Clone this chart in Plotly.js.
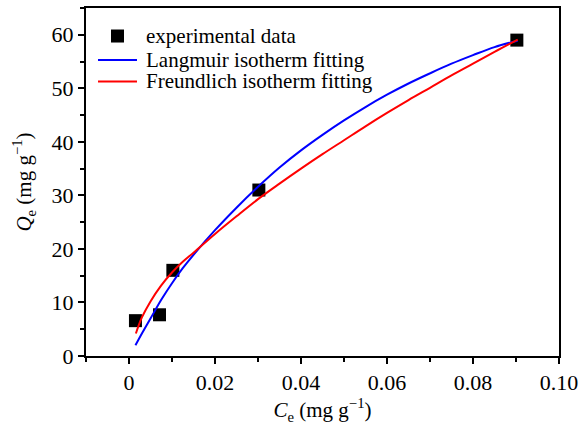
<!DOCTYPE html>
<html>
<head>
<meta charset="utf-8">
<script src="https://cdn.plot.ly/plotly-3.0.1.min.js"></script>
<style>html,body{margin:0;padding:0;background:#fff;}#chart{width:579px;height:428px;}</style>
</head>
<body>
<div id="chart"></div>
<script>
// experimental data
var expC = [0.0015, 0.0071, 0.0102, 0.0302, 0.0902];
var expQ = [6.6, 7.7, 16.0, 31.0, 59.0];
// Langmuir isotherm fitting
var langC = [0.0015, 0.003, 0.005, 0.0075, 0.01, 0.0125, 0.015, 0.02, 0.025, 0.03, 0.035, 0.04, 0.045, 0.05, 0.055, 0.06, 0.065, 0.07, 0.075, 0.08, 0.085, 0.0904];
var langQ = [2.0, 4.2, 7.0, 10.5, 13.6, 16.4, 18.9, 23.5, 27.7, 31.6, 35.2, 38.4, 41.3, 44.0, 46.5, 48.8, 50.9, 52.8, 54.6, 56.2, 57.7, 58.9];
// Freundlich isotherm fitting
var freuC = [0.0016, 0.003, 0.005, 0.0075, 0.01, 0.0125, 0.015, 0.02, 0.025, 0.03, 0.035, 0.04, 0.045, 0.05, 0.055, 0.06, 0.065, 0.07, 0.075, 0.08, 0.085, 0.0904];
var freuQ = [4.2, 7.2, 10.2, 13.2, 15.6, 17.6, 19.3, 22.8, 26.1, 29.3, 32.2, 35.0, 37.7, 40.3, 42.9, 45.4, 47.8, 50.1, 52.4, 54.6, 56.8, 59.1];
// series names and tick labels
var seriesNames = ['experimental data', 'Langmuir isotherm fitting', 'Freundlich isotherm fitting'];
var xTickVals = [0, 0.02, 0.04, 0.06, 0.08, 0.10];
var xTickText = ['0', '0.02', '0.04', '0.06', '0.08', '0.10'];
var yTickVals = [0, 10, 20, 30, 40, 50, 60];

var font = 'Liberation Serif, Times New Roman, serif';
var colors = ['#000000', '#0000ff', '#ff0000'];
var traces = [
  {x: expC, y: expQ, mode: 'markers', type: 'scatter', name: seriesNames[0],
   marker: {symbol: 'square', size: 13, color: colors[0]}},
  {x: langC, y: langQ, mode: 'lines', type: 'scatter', name: seriesNames[1],
   line: {color: colors[1], width: 2, shape: 'spline', smoothing: 1}},
  {x: freuC, y: freuQ, mode: 'lines', type: 'scatter', name: seriesNames[2],
   line: {color: colors[2], width: 2, shape: 'spline', smoothing: 1}}
];

// manual legend (paper coordinates)
var rowsY = [0.9195, 0.8506, 0.7888];
var shapes = [
  {type: 'rect', xref: 'paper', yref: 'paper', x0: 0.0529, x1: 0.0803, y0: rowsY[0] - 0.0187, y1: rowsY[0] + 0.0187,
   fillcolor: colors[0], line: {width: 0}},
  {type: 'line', xref: 'paper', yref: 'paper', x0: 0.0254, x1: 0.1078, y0: rowsY[1], y1: rowsY[1],
   line: {color: colors[1], width: 2}},
  {type: 'line', xref: 'paper', yref: 'paper', x0: 0.0254, x1: 0.1078, y0: rowsY[2], y1: rowsY[2],
   line: {color: colors[2], width: 2}}
];
var annotations = seriesNames.map(function (n, i) {
  return {text: n, xref: 'paper', yref: 'paper', x: 0.125, y: rowsY[i], xanchor: 'left', yanchor: 'middle',
          borderpad: 0, showarrow: false, font: {family: font, size: 21, color: '#000'}};
});

var layout = {
  width: 579, height: 428,
  margin: {l: 86, r: 20, t: 8, b: 72, pad: 0},
  paper_bgcolor: '#ffffff', plot_bgcolor: '#ffffff',
  font: {family: font, size: 21, color: '#000000'},
  showlegend: false,
  shapes: shapes,
  annotations: annotations,
  xaxis: {
    range: [-0.01, 0.10], showgrid: false, zeroline: false,
    showline: true, linecolor: '#000', linewidth: 2, mirror: true,
    ticks: 'outside', ticklen: 6, tickwidth: 2, tickcolor: '#000',
    tickmode: 'array', tickvals: xTickVals, ticktext: xTickText,
    tickfont: {family: font, size: 22},
    minor: {dtick: 0.01, tick0: 0, ticks: 'outside', ticklen: 4, tickwidth: 2, tickcolor: '#000'},
    title: {text: '<i>C</i><sub>e</sub> (mg g<sup>−1</sup>)', font: {family: font, size: 21}, standoff: 4}
  },
  yaxis: {
    range: [0, 65], showgrid: false, zeroline: false,
    showline: true, linecolor: '#000', linewidth: 2, mirror: true,
    ticks: 'outside', ticklen: 6, tickwidth: 2, tickcolor: '#000',
    tickmode: 'array', tickvals: yTickVals,
    tickfont: {family: font, size: 22},
    minor: {dtick: 5, tick0: 0, ticks: 'outside', ticklen: 4, tickwidth: 2, tickcolor: '#000'},
    title: {text: '<i>Q</i><sub>e</sub> (mg g<sup>−1</sup>)', font: {family: font, size: 21}, standoff: 14}
  }
};
Plotly.newPlot('chart', traces, layout, {displayModeBar: false, staticPlot: true});
</script>
</body>
</html>
